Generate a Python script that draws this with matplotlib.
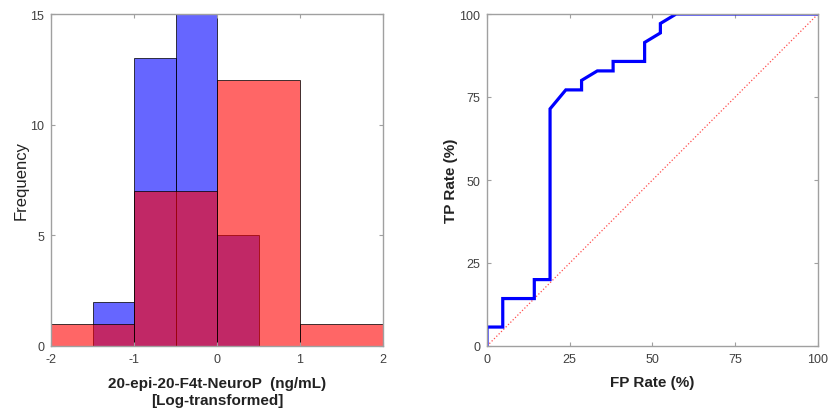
import numpy as np
import matplotlib.pyplot as plt

plt.rcParams['font.family'] = ['Liberation Sans', 'DejaVu Sans']
plt.rcParams['axes.unicode_minus'] = False

# histogram data (log-transformed concentration)
blue_edges = [-1.5, -1.0, -0.5, 0.0]
blue_counts = [2, 13, 15, 5]
blue_width = 0.5
red_edges = [-2.0, -1.0, 0.0, 1.0]
red_counts = [1, 7, 12, 1]
red_width = 1.0

# ROC curve (%)
fp_rate = [0, 0, 4.76, 4.76, 14.29, 14.29, 19.05, 19.05, 23.81, 28.57, 28.57,
           33.33, 38.10, 38.10, 47.62, 47.62, 52.38, 52.38, 57.14, 100]
tp_rate = [0, 5.71, 5.71, 14.29, 14.29, 20.0, 20.0, 71.43, 77.14, 77.14, 80.0,
           82.86, 82.86, 85.71, 85.71, 91.43, 94.29, 97.14, 100, 100]

spine_col = '#a0a0a0'
text_col = '#404040'

fig = plt.figure(figsize=(8.31, 4.14), dpi=100)
ax1 = fig.add_axes([51/831, 67/414, 332/831, 332/414])
ax2 = fig.add_axes([487/831, 67/414, 331/831, 332/414])

# Histogram panel
ax1.bar(blue_edges, blue_counts, width=blue_width, align='edge',
        facecolor=(0, 0, 1, 0.6), edgecolor=(0, 0, 0, 0.75), linewidth=0.7)
ax1.bar(red_edges, red_counts, width=red_width, align='edge',
        facecolor=(1, 0, 0, 0.6), edgecolor=(0, 0, 0, 0.75), linewidth=0.7)
ax1.set_xlim(-2, 2)
ax1.set_ylim(0, 15)
ax1.set_xticks([-2, -1, 0, 1, 2])
ax1.set_yticks([0, 5, 10, 15])
ax1.set_xlabel('20-epi-20-F4t-NeuroP  (ng/mL)\n[Log-transformed]',
               fontsize=11, fontweight='bold', color='#222222', labelpad=8,
               linespacing=1.25)
ax1.set_ylabel('Frequency', fontsize=12, color='#222222', labelpad=1)

# ROC panel
ax2.plot([0, 100], [0, 100], color=(1, 0.3, 0.3), linestyle=':', linewidth=0.9)
ax2.plot(fp_rate, tp_rate, color='#0000ff', linewidth=2.3, solid_joinstyle='miter')
ax2.set_xlim(0, 100)
ax2.set_ylim(0, 100)
ax2.set_xticks([0, 25, 50, 75, 100])
ax2.set_yticks([0, 25, 50, 75, 100])
ax2.set_xlabel('FP Rate (%)', fontsize=11, fontweight='bold', color='#222222', labelpad=7)
ax2.set_ylabel('TP Rate (%)', fontsize=11, fontweight='bold', color='#222222', labelpad=1)

for ax in (ax1, ax2):
    for s in ax.spines.values():
        s.set_color(spine_col)
        s.set_linewidth(1.0)
    ax.tick_params(direction='in', length=3, width=0.8, color=spine_col,
                   labelcolor=text_col, labelsize=9, top=True, right=True, pad=5)

fig.savefig('out.png', dpi=100)
